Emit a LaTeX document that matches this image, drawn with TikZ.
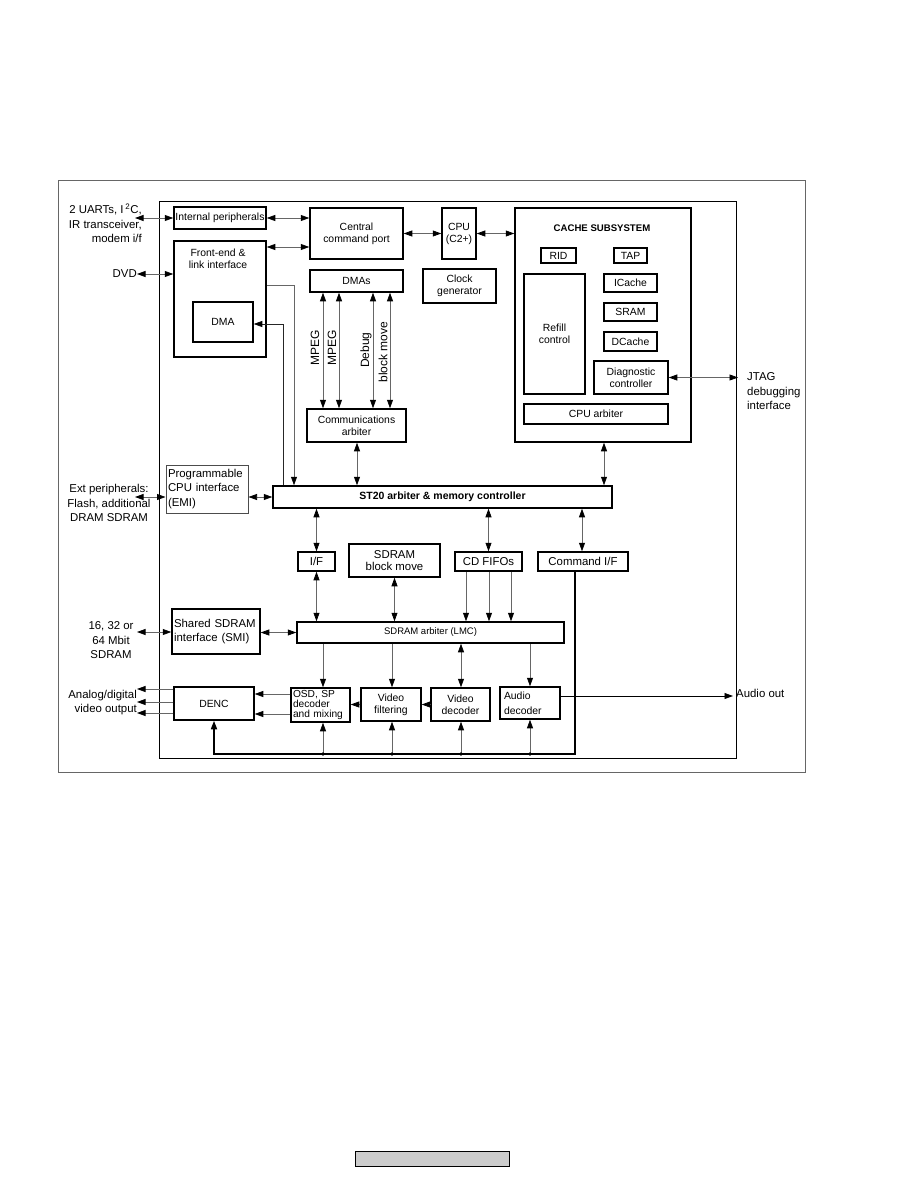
\documentclass[tikz,border=0pt]{standalone}
\usepackage{fontspec}
\setmainfont{Liberation Sans}
\usetikzlibrary{arrows.meta}
\newcommand\fsA{\fontsize{10.4}{12}\selectfont}
\newcommand\fsB{\fontsize{11.4}{12}\selectfont}
\newcommand\fsO{\fontsize{11.4}{14.5}\selectfont}
\newcommand\fsC{\fontsize{12}{14}\selectfont}
\newcommand\fsL{\fontsize{9.5}{11}\selectfont}
\newcommand\fsS{\fontsize{10.2}{9.8}\selectfont}
\newcommand\fsH{\fontsize{9.6}{11}\selectfont\bfseries}
\newcommand\fsST{\fontsize{10.5}{12}\selectfont\bfseries}
\newcommand\fsD{\fontsize{10.4}{15}\selectfont}
\newcommand\mybox[7][]{\node[box,minimum width={(#4-#2)*1pt},minimum height={(#5-#3)*1pt},#1] (#6) at ({(#2+#4)/2},{(#3+#5)/2}) {#7};}
\begin{document}
\begin{tikzpicture}[x=1pt,y=-1pt,
  >={Triangle[length=8.5pt,width=6pt,color=black]},
  box/.style={draw,line width=1.5pt,inner sep=1pt,align=center,font=\fsA},
  conn/.style={line width=0.75pt,draw=black!60},
  lab/.style={inner sep=0pt,font=\fsO},
  rlab/.style={inner sep=0pt,font=\fsC,rotate=90}]
\useasboundingbox (0,0) rectangle (918,1188);
% frames
\draw[black!60,line width=0.8pt] (58,180) rectangle (805,772);
\draw[line width=1pt] (159,201) rectangle (736,758);
% boxes
\mybox{174}{207}{266}{229}{ip}{Internal peripherals}
\mybox{174}{241}{266}{357}{fe}{}
\node[font=\fsA,align=center] (fet) at (218,259) {Front-end \&\\ link interface};
\mybox{193}{302}{253}{342}{dma}{DMA}
\mybox{310}{208}{403}{259}{ccp}{Central\\command port}
\mybox{442}{208}{476}{259}{cpu}{CPU\\(C2+)}
\mybox{310}{270}{403}{292}{dmas}{DMAs}
\mybox{423}{269}{496}{303}{clk}{Clock\\generator}
\mybox{307}{409}{406}{442}{comm}{Communications\\arbiter}
\mybox{515}{208}{691}{442}{cache}{}
\node[font=\fsH] (cachet) at (602,228) {CACHE SUBSYSTEM};
\mybox{541}{248}{576}{263}{rid}{RID}
\mybox{614}{248}{647}{263}{tap}{TAP}
\mybox{604}{274}{657}{292}{icache}{ICache}
\mybox{604}{303}{657}{321}{sram}{SRAM}
\mybox{604}{332}{657}{351}{dcache}{DCache}
\mybox{524}{274}{585}{394}{refill}{Refill\\control}
\mybox{594}{361}{668}{394}{diag}{Diagnostic\\controller}
\mybox{524}{404}{668}{424}{cpuarb}{CPU arbiter}
\mybox[font=\fsST]{273}{486}{612}{508}{st20}{ST20 arbiter \& memory controller}
\mybox[font=\fsO,align=left,text width=78pt,draw=black!70,line width=1pt]{166}{465}{248}{513}{emi}{Programmable\\CPU interface\\(EMI)}
\mybox[font=\fsB]{298}{552}{335}{571}{if}{I/F}
\mybox[font=\fsB]{349}{544}{440}{577}{sbm}{SDRAM\\block move}
\mybox[font=\fsB]{455}{552}{522}{571}{cdf}{CD FIFOs}
\mybox[font=\fsB]{538}{552}{628}{571}{cmdif}{Command I/F}
\mybox[font=\fsL]{297}{622}{564}{643}{lmc}{SDRAM arbiter (LMC)}
\mybox[font=\fsO,align=left,text width=84pt]{172}{609}{260}{654}{smi}{Shared SDRAM\\interface (SMI)}
\mybox{174}{687}{254}{720}{denc}{DENC}
\mybox[font=\fsS,align=left,text width=55pt]{291}{688}{350}{722}{osd}{OSD, SP\\decoder\\and mixing}
\mybox{361}{688}{421}{721}{vf}{Video\\filtering}
\mybox{431}{688}{490}{721}{vd}{Video\\decoder}
\mybox[font=\fsD,align=left,text width=52pt]{500}{687}{560}{719}{ad}{Audio\\decoder}
% outer labels
\node[lab,align=right,anchor=east] (uart) at (142,223.5) {2 UARTs, I\,\textsuperscript{2}C,\\IR transceiver,\\modem i/f};
\node[lab,anchor=east] (dvd) at (137,274) {DVD};
\node[lab,align=center] (ext) at (109,503) {Ext peripherals:\\Flash, additional\\DRAM SDRAM};
\node[lab,align=center] (sdr) at (111,640.5) {16, 32 or\\64 Mbit\\SDRAM};
\node[lab,align=right,anchor=east,font=\fontsize{11.4}{14}\selectfont] (avo) at (137,703) {Analog/digital\\video output};
\node[lab,align=left,anchor=west] (jtag) at (747,391.5) {JTAG\\debugging\\interface};
\node[lab,anchor=west] (aout) at (736,693) {Audio out};
% rotated labels
\node[rlab] (mp1) at (315,348) {MPEG};
\node[rlab] (mp2) at (332,348) {MPEG};
\node[rlab] (dbg) at (366,350) {Debug};
\node[rlab] (blk) at (383,352) {block move};
% coordinates
\coordinate (u0) at (135,218);
\coordinate (d0) at (137,274);
\coordinate (fy) at (0,247);
\coordinate (fl) at (294,285);
\coordinate (dl) at (283,324);
\coordinate (xc) at (357,0);
\coordinate (xk) at (604,0);
\coordinate (jt) at (738,377.5);
\coordinate (e0) at (135,497);
\coordinate (xcm) at (582,0);
\coordinate (s0) at (137,632);
\coordinate (xo) at (323,0);
\coordinate (xv) at (392,0);
\coordinate (xd) at (461,0);
\coordinate (xa) at (530,0);
\coordinate (y1) at (0,694);
\coordinate (y2) at (0,714);
\coordinate (ao) at (733,696);
\coordinate (bR) at (575,754);
\coordinate (bL) at (214,754);
% connectors
\draw[conn,<->] (u0) -- (ip.west);
\draw[conn,<->] (d0) -- (fe.west |- d0);
\draw[conn,<->] (ip.east) -- (ccp.west |- ip.east);
\draw[conn,<->] (fe.east |- fy) -- (ccp.west |- fy);
\draw[conn,<->] (ccp.east) -- (cpu.west);
\draw[conn,<->] (cpu.east) -- (cache.west |- cpu.east);
\draw[conn,->] (fe.east |- fl) -- (fl) -- (st20.north -| fl);
\draw[conn,->,draw=black!85] (st20.north -| dl) -- (dl) -- (dma.east |- dl);
\foreach \xx in {323,339,373,390}{
  \coordinate (vv) at (\xx,0);
  \draw[conn,<->] (dmas.south -| vv) -- (comm.north -| vv);
}
\draw[conn,<->] (comm.south -| xc) -- (st20.north -| xc);
\draw[conn,<->] (cache.south -| xk) -- (st20.north -| xk);
\draw[conn,<->] (diag.east) -- (jt);
\draw[conn,<->] (st20.west) -- (emi.east |- st20.west);
\draw[conn,<->] (e0) -- (emi.west |- e0);
\draw[conn,<->] (st20.south -| if.north) -- (if.north);
\draw[conn,<->] (if.south) -- (lmc.north -| if.south);
\draw[conn,<->] (st20.south -| cdf.north) -- (cdf.north);
\draw[conn,<->] (st20.south -| xcm) -- (cmdif.north -| xcm);
\draw[conn,<->] (sbm.south) -- (lmc.north -| sbm.south);
\foreach \xx in {466,489,511}{
  \coordinate (cc) at (\xx,0);
  \draw[conn,->] (cdf.south -| cc) -- (lmc.north -| cc);
}
\draw[conn,<->] (s0) -- (smi.west |- s0);
\draw[conn,<->] (smi.east |- lmc.west) -- (lmc.west);
\draw[conn,->] (lmc.south -| xo) -- (osd.north -| xo);
\draw[conn,->] (lmc.south -| xv) -- (vf.north -| xv);
\draw[conn,<->] (lmc.south -| xd) -- (vd.north -| xd);
\draw[conn,->] (lmc.south -| xa) -- (ad.north -| xa);
\draw[conn,->] (vf.west) -- (osd.east |- vf.west);
\draw[conn,->] (vd.west) -- (vf.east |- vd.west);
\draw[conn,->] (osd.west |- y1) -- (denc.east |- y1);
\draw[conn,->] (osd.west |- y2) -- (denc.east |- y2);
\foreach \yy in {689,702,713}{
  \coordinate (oo) at (137,\yy);
  \draw[conn,->] (denc.west |- oo) -- (oo);
}
\draw[conn,->,draw=black] (ad.east |- ao) -- (ao);
% bus
\draw[line width=1.6pt,->] (cmdif.south -| bR) -- (bR) -- (bL) -- (denc.south);
\foreach \nn/\xx in {osd/323,vf/392,vd/461,ad/530}{
  \coordinate (bb) at (\xx,754);
  \draw[conn,->] (bb) -- (\nn.south -| bb);
  \fill (bb) circle (1.8);
}
% footer bar
\node[draw,fill=black!20,line width=1pt,minimum width=154pt,minimum height=15pt,inner sep=0pt] (footer) at (432,1158.5) {};
\end{tikzpicture}
\end{document}
